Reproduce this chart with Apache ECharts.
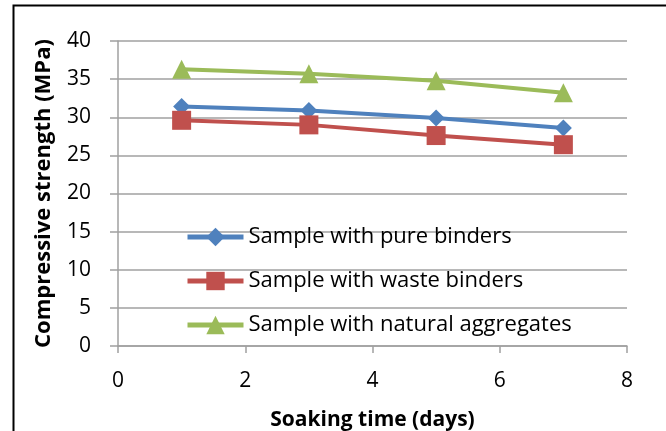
<!DOCTYPE html>
<html>
<head>
<meta charset="utf-8">
<script src="https://cdn.jsdelivr.net/npm/echarts@6/dist/echarts.min.js"></script>
<style>
  html, body { margin: 0; padding: 0; background: #fff; }
  #chart { width: 666px; height: 431px; }
</style>
</head>
<body>
<div id="chart"></div>
<script>
const days = [1, 3, 5, 7];
const pureBinders = [31.4, 30.9, 29.9, 28.6];
const wasteBinders = [29.6, 29.0, 27.6, 26.4];
const naturalAggregates = [36.3, 35.7, 34.8, 33.2];
const seriesNames = ['Sample with pure binders', 'Sample with waste binders', 'Sample with natural aggregates'];

const pairs = vals => days.map((d, i) => [d, vals[i]]);

const myChart = echarts.init(document.getElementById('chart'));
const font = '"Open Sans", sans-serif';

const option = {
  animation: false,
  textStyle: { fontFamily: font },
  grid: { left: 118, right: 39, top: 41, bottom: 85, outerBoundsMode: 'none' },
  graphic: [{
    type: 'rect',
    left: 11, top: 3,
    shape: { width: 700, height: 500 },
    style: { fill: 'none', stroke: '#000', lineWidth: 2 },
    silent: true
  }],
  legend: {
    orient: 'vertical',
    left: 185,
    top: 226,
    padding: 0,
    itemWidth: 56,
    itemHeight: 23,
    itemGap: 22,
    lineStyle: { width: 5 },
    textStyle: { fontSize: 22, color: '#000', fontFamily: font },
    data: seriesNames
  },
  xAxis: {
    type: 'value',
    min: 0, max: 8, interval: 2,
    name: 'Soaking time (days)',
    nameLocation: 'middle',
    nameGap: 64,
    nameTextStyle: { fontSize: 21, fontWeight: 'bold', color: '#000' },
    axisLine: { lineStyle: { color: '#a0a0a0', width: 1.5 } },
    axisTick: { show: true, length: 7, lineStyle: { color: '#a0a0a0', width: 1.5 } },
    axisLabel: { fontSize: 21, color: '#000', margin: 25 },
    splitLine: { show: false }
  },
  yAxis: {
    type: 'value',
    min: 0, max: 40, interval: 5,
    name: 'Compressive strength (MPa)',
    nameLocation: 'middle',
    nameGap: 63,
    nameTextStyle: { fontSize: 22, fontWeight: 'bold', color: '#000' },
    axisLine: { show: true, lineStyle: { color: '#a0a0a0', width: 1.5 } },
    axisTick: { show: true, length: 8, lineStyle: { color: '#a0a0a0', width: 1.5 } },
    axisLabel: { fontSize: 21, color: '#000', margin: 27 },
    splitLine: { lineStyle: { color: '#a0a0a0', width: 1.5 } }
  },
  series: [
    {
      name: seriesNames[0], type: 'line', data: pairs(pureBinders),
      symbol: 'diamond', symbolSize: 17,
      lineStyle: { width: 4, color: '#4F81BD' },
      itemStyle: { color: '#4F81BD' }
    },
    {
      name: seriesNames[1], type: 'line', data: pairs(wasteBinders),
      symbol: 'rect', symbolSize: 19,
      lineStyle: { width: 4, color: '#C0504D' },
      itemStyle: { color: '#C0504D' }
    },
    {
      name: seriesNames[2], type: 'line', data: pairs(naturalAggregates),
      symbol: 'triangle', symbolSize: 19,
      lineStyle: { width: 4, color: '#9BBB59' },
      itemStyle: { color: '#9BBB59' }
    }
  ]
};

option && myChart.setOption(option);
</script>
</body>
</html>
